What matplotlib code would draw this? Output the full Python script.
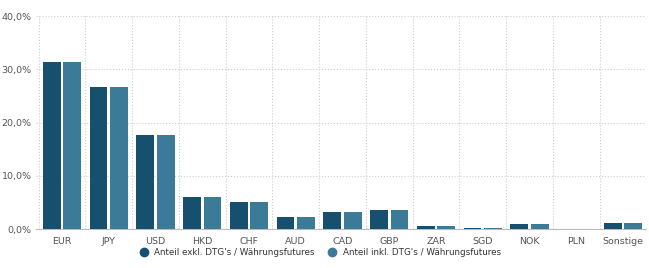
import numpy as np
import matplotlib.pyplot as plt
from matplotlib.ticker import FuncFormatter
from matplotlib.lines import Line2D

waehrungen = ['EUR', 'JPY', 'USD', 'HKD', 'CHF', 'AUD', 'CAD', 'GBP', 'ZAR', 'SGD', 'NOK', 'PLN', 'Sonstige']
exkl = [31.3, 26.6, 17.6, 6.0, 5.1, 2.3, 3.2, 3.5, 0.5, 0.2, 1.0, 0.0, 1.1]  # Anteil exkl. DTG's
inkl = [31.3, 26.6, 17.6, 6.0, 5.1, 2.3, 3.2, 3.5, 0.5, 0.2, 1.0, 0.0, 1.1]  # Anteil inkl. DTG's
namen = ["Anteil exkl. DTG's / Währungsfutures", "Anteil inkl. DTG's / Währungsfutures"]
farben = ['#17506e', '#3b7b98']

fig = plt.figure(figsize=(6.49, 2.68), dpi=100)
ax = fig.add_axes([0.056, 0.145, 0.940, 0.795])

x = np.arange(len(waehrungen))
b = 0.38
ax.bar(x - 0.22, exkl, b, color=farben[0], zorder=3)
ax.bar(x + 0.22, inkl, b, color=farben[1], zorder=3)

ax.set_xlim(-0.55, len(waehrungen) - 0.5)
ax.set_ylim(0, 40)
ax.set_yticks([0, 10, 20, 30, 40])
ax.yaxis.set_major_formatter(FuncFormatter(lambda v, p: f'{v:.1f}%'.replace('.', ',')))
ax.set_xticks(x)
ax.set_xticklabels(waehrungen)
ax.set_xticks(np.arange(-0.5, len(waehrungen), 1), minor=True)

ax.grid(axis='y', which='major', color='#cccccc', linestyle=':', linewidth=0.8, zorder=0)
ax.grid(axis='x', which='minor', color='#cccccc', linestyle=':', linewidth=0.8, zorder=0)
ax.tick_params(axis='both', which='both', length=0, labelsize=6.8, labelcolor='#555555')
ax.tick_params(axis='x', pad=6)
for s in ['top', 'right', 'left']:
    ax.spines[s].set_visible(False)
ax.spines['bottom'].set_color('#bbbbbb')
ax.spines['bottom'].set_linewidth(0.8)

handles = [Line2D([], [], marker='o', linestyle='', color=c, markersize=6) for c in farben]
fig.legend(handles, namen, loc='center', bbox_to_anchor=(0.49, 0.057), ncol=2, frameon=False,
           fontsize=6.3, handletextpad=0.2, columnspacing=1.0, labelcolor='#333333')

fig.savefig('out.png', dpi=100)
